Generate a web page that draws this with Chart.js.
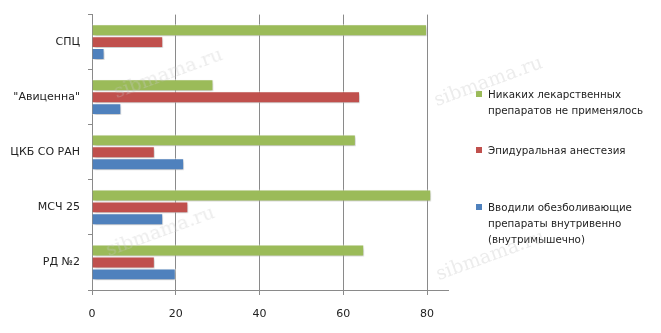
<!DOCTYPE html>
<html>
<head>
<meta charset="utf-8">
<script src="https://cdn.jsdelivr.net/npm/chart.js@4/dist/chart.umd.min.js"></script>
<style>
  html, body { margin: 0; padding: 0; background: #fff; }
  #wrap { position: relative; width: 661px; height: 333px; overflow: hidden; }
  #c { position: absolute; left: 0; top: 0; }
  .leg { position: absolute; left: 476px; font: 10.3px "DejaVu Sans", Verdana, sans-serif; color: #222; line-height: 16px; }
  .leg .sw { position: absolute; left: 0; top: 5px; width: 6px; height: 6px; }
  .leg .tx { margin-left: 12px; white-space: nowrap; }
  .wm { position: absolute; font: 19px "DejaVu Serif", "Liberation Serif", serif; color: rgba(200,200,200,0.35); transform: rotate(-20deg); transform-origin: left bottom; white-space: nowrap; }
</style>
</head>
<body>
<div id="wrap">
  <canvas id="c" width="661" height="333"></canvas>
  <div id="legend"></div>
  <div class="wm" style="left:438px; top:88px;">sibmama.ru</div>
  <div class="wm" style="left:118px; top:80px;">sibmama.ru</div>
  <div class="wm" style="left:110px; top:238px;">sibmama.ru</div>
  <div class="wm" style="left:440px; top:262px;">sibmama.ru</div>
</div>
<script>
const categories = ['СПЦ', '"Авиценна"', 'ЦКБ СО РАН', 'МСЧ 25', 'РД №2'];
const seriesNames = [
  ['Никаких лекарственных', 'препаратов не применялось'],
  ['Эпидуральная анестезия'],
  ['Вводили обезболивающие', 'препараты внутривенно', '(внутримышечно)']
];
const noDrugs   = [80, 29, 63, 81, 65];
const epidural  = [17, 64, 15, 23, 15];
const analgesic = [3, 7, 22, 17, 20];
const xTicks = [0, 20, 40, 60, 80];
const colors = ['#9BBB59', '#C0504D', '#4F81BD'];
const legendTops = [86, 142, 199];

const shadowPlugin = {
  id: 'shadow',
  beforeDatasetsDraw(chart) {
    const ctx = chart.ctx;
    ctx.save();
    ctx.shadowColor = 'rgba(0,0,0,0.28)';
    ctx.shadowBlur = 3;
    ctx.shadowOffsetX = 1;
    ctx.shadowOffsetY = 2;
  },
  afterDatasetsDraw(chart) {
    chart.ctx.restore();
  }
};

const series = [noDrugs, epidural, analgesic];
new Chart(document.getElementById('c'), {
  type: 'bar',
  data: {
    labels: categories,
    datasets: series.map((d, i) => ({
      label: seriesNames[i].join(' '),
      data: d,
      backgroundColor: colors[i],
      borderColor: 'rgba(255,255,255,0.7)',
      borderWidth: 1,
      barPercentage: 1,
      categoryPercentage: 0.65
    }))
  },
  options: {
    indexAxis: 'y',
    responsive: false,
    animation: false,
    devicePixelRatio: 1,
    layout: { padding: { top: 12, right: 213, left: 0, bottom: 0 } },
    plugins: { legend: { display: false }, tooltip: { enabled: false } },
    scales: {
      x: {
        min: 0, max: 85,
        afterBuildTicks(scale) { scale.ticks = xTicks.map(v => ({ value: v })); },
        afterFit(scale) { scale.height = 43; },
        grid: { color: '#8a8a8a', lineWidth: 1, tickLength: 5, drawTicks: true },
        border: { color: '#8a8a8a', width: 1 },
        ticks: { color: '#222', font: { family: '"DejaVu Sans", Verdana, sans-serif', size: 11 }, padding: 13 }
      },
      y: {
        afterFit(scale) { scale.width = 92; },
        grid: { drawOnChartArea: false, drawTicks: true, tickLength: 4, color: '#8a8a8a' },
        border: { color: '#8a8a8a', width: 1 },
        ticks: { color: '#222', font: { family: '"DejaVu Sans", Verdana, sans-serif', size: 11 }, padding: 8 }
      }
    }
  },
  plugins: [shadowPlugin]
});

const leg = document.getElementById('legend');
seriesNames.forEach((lines, i) => {
  const d = document.createElement('div');
  d.className = 'leg';
  d.style.top = legendTops[i] + 'px';
  d.innerHTML = '<span class="sw" style="background:' + colors[i] + '"></span><div class="tx">' + lines.join('<br>') + '</div>';
  leg.appendChild(d);
});
</script>
</body>
</html>
